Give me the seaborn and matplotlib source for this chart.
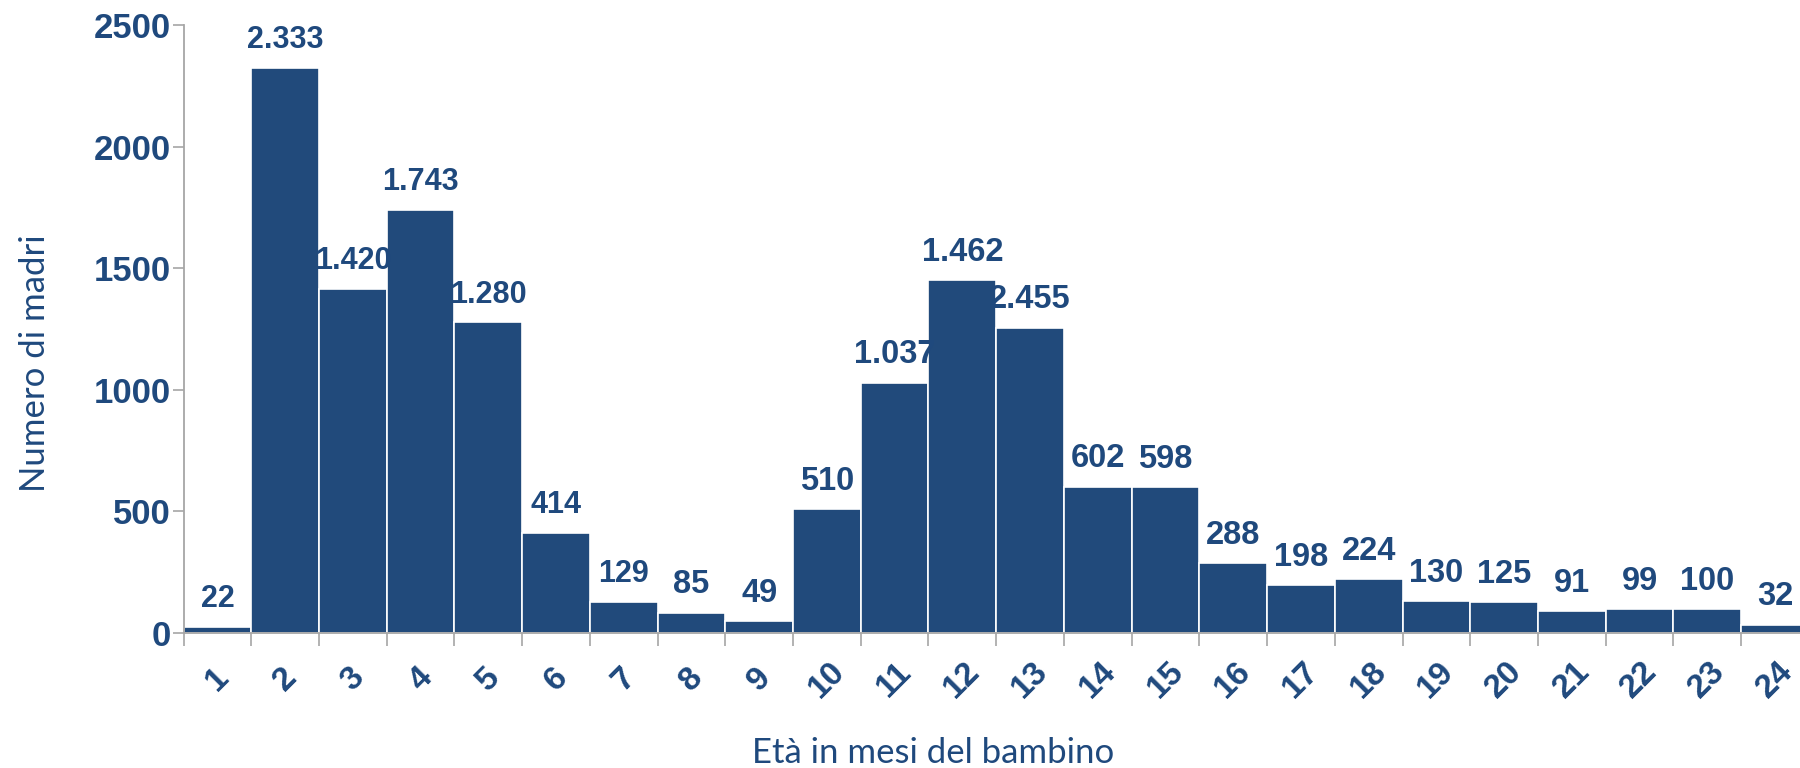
import matplotlib
matplotlib.use("Agg")
import matplotlib.pyplot as plt
import seaborn as sns
import numpy as np

# ================================================================
# Data
# ================================================================

months = [str(m) for m in range(1, 25)]
# bar heights as drawn in the chart
counts = [22, 2325, 1415, 1738, 1276, 410, 125, 82, 47, 508, 1028, 1450,
          1255, 600, 598, 285, 195, 220, 128, 125, 88, 97, 97, 32]
# value labels as printed above the bars
value_labels = ["22", "2.333", "1.420", "1.743", "1.280", "414", "129", "85",
                "49", "510", "1.037", "1.462", "2.455", "602", "598", "288",
                "198", "224", "130", "125", "91", "99", "100", "32"]

BLUE = "#214A7B"
TEXT = "#1F497D"
GREY = "#A6A6A6"

# ================================================================
# Plot
# ================================================================

sns.set_theme(style="white")
plt.rcParams["font.family"] = ["Liberation Sans", "DejaVu Sans"]

fig = plt.figure(figsize=(18, 7.68), dpi=100)
ax = fig.add_axes([0.102, 0.1764, 0.898, 0.791])

sns.barplot(x=months, y=counts, color=BLUE, width=1.0, saturation=1,
            edgecolor="white", linewidth=1.2, ax=ax)

ax.set_ylim(0, 2500)
ax.set_xlim(-0.5, 23.37)

# value labels (the right-hand ones are a bit larger in the original)
for i, (h, lab) in enumerate(zip(counts, value_labels)):
    size = 22 if i < 7 else 23.5
    ax.text(i, h + 115, lab, ha="center", va="center", fontweight="bold",
            fontsize=size, color=TEXT, clip_on=False)

# spines
sns.despine(ax=ax, top=True, right=True)
for side in ["left", "bottom"]:
    ax.spines[side].set_color(GREY)
    ax.spines[side].set_linewidth(1.3)

# y ticks
ax.set_yticks([0, 500, 1000, 1500, 2000, 2500])
ax.tick_params(axis="y", which="major", direction="out", length=8, width=1.2,
               color=GREY, labelsize=25, labelcolor=TEXT, pad=1, left=True)
for t in ax.get_yticklabels():
    t.set_fontweight("bold")

# x ticks: marks at bar edges, labels at bar centers
ax.set_xticks(np.arange(len(months)) - 0.5)
ax.set_xticklabels([])
ax.set_xticks(np.arange(len(months)), minor=True)
ax.set_xticklabels(months, minor=True, rotation=45, ha="center", va="center",
                   fontweight="bold")
ax.tick_params(axis="x", which="major", direction="out", length=9.5, width=1.2,
               color=GREY, bottom=True)
ax.tick_params(axis="x", which="minor", length=0, labelsize=24,
               labelcolor=TEXT, pad=34)

ax.set_ylabel("Numero di madri", fontsize=25, color=TEXT, family="Lato")
ax.set_xlabel("Età in mesi del bambino", fontsize=25, color=TEXT, family="Lato")
ax.yaxis.set_label_coords(-0.082, 0.444)
ax.xaxis.set_label_coords(0.464, -0.172)

plt.savefig("out.png", dpi=100)
